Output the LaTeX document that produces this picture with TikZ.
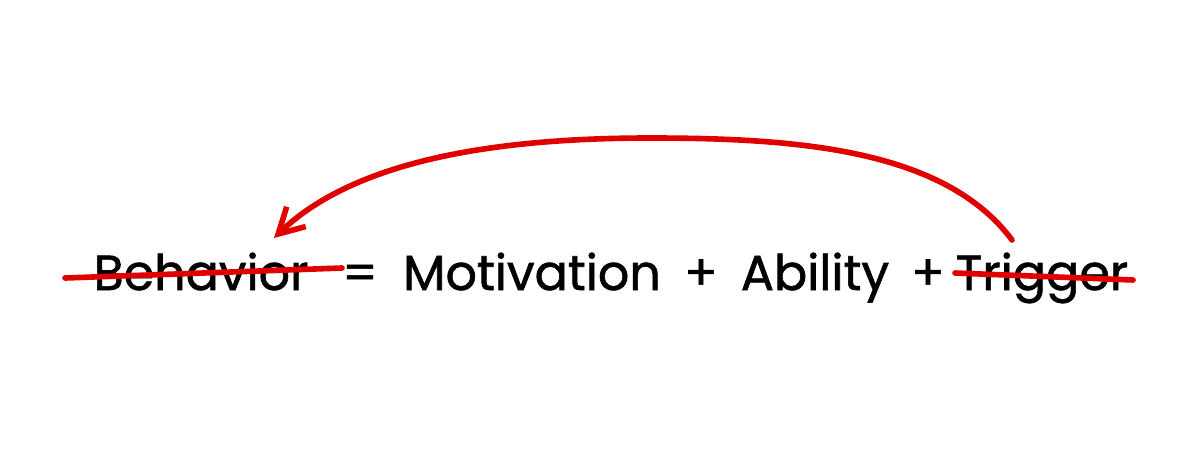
\documentclass[tikz,border=0pt]{standalone}
\usepackage{fontspec}
\setmainfont{Poppins}
\newfontfamily\inkfont[FakeBold=1.2]{Poppins}
\usepackage{tikz}
\usetikzlibrary{arrows.meta, positioning, calc}
\usepackage{xcolor}
\definecolor{strikered}{RGB}{225,0,0}

\begin{document}
\begin{tikzpicture}[
  x=0.02cm, y=-0.02cm,
  word/.style={inner sep=0pt, anchor=base, font=\inkfont\fontsize{28}{30}\selectfont},
  strike/.style={draw=strikered, line width=3.2pt, line cap=round},
  backarrow/.style={strike, -{Straight Barb[length=5mm, width=5.5mm, line width=3.2pt]}},
]
% Frame
\useasboundingbox (0,0) rectangle (1200,457);

% Formula
\node[word] (beh) at (201,290) {Behavior};
\node[word] (eq) at (360,290) {=};
\node[word] (mot) at (532,290) {Motivation};
\node[word] (plusa) at (701,290) {+};
\node[word] (abi) at (815,290) {Ability};
\node[word] (plusb) at (928,290) {+};
\node[word] (trig) at (1042,290) {Trigger};

% Strike-through ends
\coordinate (behl) at (65,278);
\coordinate (behr) at (342,268);
\coordinate (trigl) at (955,273);
\coordinate (trigr) at (1133,280);

% Arrow ends
\coordinate (from) at (1012,240);
\coordinate (to) at (274,238);

% Strike-throughs
\draw[strike] (behl) -- (behr);
\draw[strike] (trigl) -- (trigr);

% Trigger -> Behavior
\draw[backarrow] (from) .. controls (945,150) and (800,138) .. (650,138)
  .. controls (480,138) and (350,165) .. (to);
\end{tikzpicture}
\end{document}
